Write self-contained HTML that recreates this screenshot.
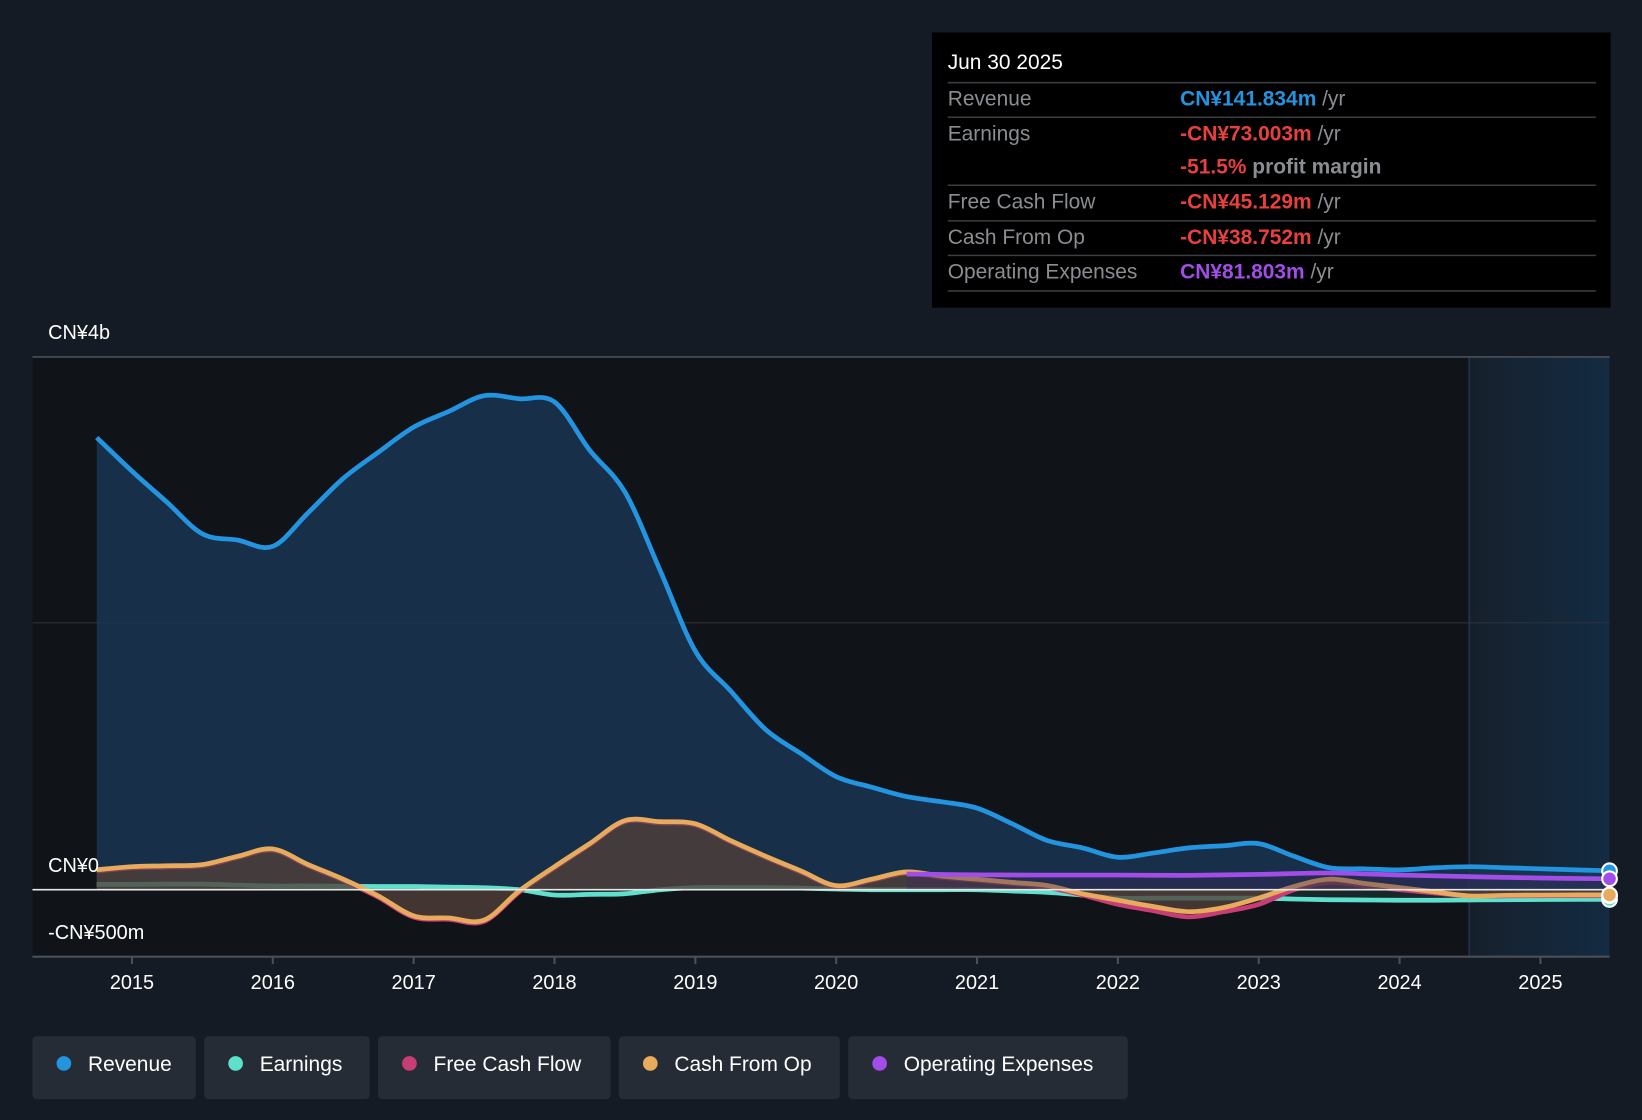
<!DOCTYPE html>
<html><head><meta charset="utf-8"><style>
html,body{margin:0;padding:0;background:#151b24;}
svg{display:block;font-family:"Liberation Sans","Noto Sans CJK SC",sans-serif;}
</style></head><body>
<svg id="chart" width="1642" height="1120" viewBox="0 0 1568 1070" preserveAspectRatio="none" xmlns="http://www.w3.org/2000/svg">
<defs>
<linearGradient id="fc" x1="0" x2="1" y1="0" y2="0"><stop offset="0" stop-color="#16202c"/><stop offset="1" stop-color="#142b42"/></linearGradient>
</defs>
<rect x="0" y="0" width="1568" height="1070" fill="#151b24"/>
<rect x="31" y="341" width="1506" height="573" fill="#101318"/>
<rect x="1403" y="341" width="134" height="573" fill="url(#fc)"/>
<line x1="1403" y1="341" x2="1403" y2="914" stroke="#22344a" stroke-width="1.5"/>
<line x1="31" y1="341" x2="1537" y2="341" stroke="#4a4f58" stroke-width="1.5"/>
<line x1="31" y1="595" x2="1537" y2="595" stroke="#2a323d" stroke-width="1"/>
<g id="series"></g>
<line x1="31" y1="850" x2="1537" y2="850" stroke="#e8e8e8" stroke-width="1.5"/>
<line x1="31" y1="914" x2="1537" y2="914" stroke="#4a4f58" stroke-width="2"/>
<text x="46" y="324" fill="#fff" font-size="19">CN¥4b</text>
<text x="46" y="833" fill="#fff" font-size="19">CN¥0</text>
<text x="46" y="897" fill="#fff" font-size="19">-CN¥500m</text>
<g id="xticks"></g>
<g id="markers"></g>

<g>
<rect x="890" y="31" width="648" height="263" fill="#000"/>
<text x="905" y="66" fill="#fff" font-size="20">Jun 30 2025</text>
<g stroke="#3a3d42" stroke-width="1.5">
<line x1="905" y1="79" x2="1524" y2="79"/><line x1="905" y1="112" x2="1524" y2="112"/>
<line x1="905" y1="177" x2="1524" y2="177"/><line x1="905" y1="211" x2="1524" y2="211"/>
<line x1="905" y1="244" x2="1524" y2="244"/><line x1="905" y1="278" x2="1524" y2="278"/>
</g>
<g font-size="20" fill="#8a8d92">
<text x="905" y="101">Revenue</text><text x="905" y="134">Earnings</text>
<text x="905" y="199">Free Cash Flow</text><text x="905" y="233">Cash From Op</text>
<text x="905" y="266">Operating Expenses</text>
</g>
<g font-size="20" font-weight="bold">
<text x="1127" y="101"><tspan fill="#2394e0">CN¥141.834m</tspan><tspan fill="#8a8d92" font-weight="normal"> /yr</tspan></text>
<text x="1127" y="134"><tspan fill="#e8403f">-CN¥73.003m</tspan><tspan fill="#8a8d92" font-weight="normal"> /yr</tspan></text>
<text x="1127" y="166"><tspan fill="#e8403f">-51.5%</tspan><tspan fill="#8a8d92"> profit margin</tspan></text>
<text x="1127" y="199"><tspan fill="#e8403f">-CN¥45.129m</tspan><tspan fill="#8a8d92" font-weight="normal"> /yr</tspan></text>
<text x="1127" y="233"><tspan fill="#e8403f">-CN¥38.752m</tspan><tspan fill="#8a8d92" font-weight="normal"> /yr</tspan></text>
<text x="1127" y="266"><tspan fill="#a24de8">CN¥81.803m</tspan><tspan fill="#8a8d92" font-weight="normal"> /yr</tspan></text>
</g>
</g>

<g font-size="20" fill="#fff">
<g><rect x="31" y="990" width="156" height="60" rx="4" fill="#262c36"/><circle cx="61" cy="1016" r="7" fill="#2394e0"/><text x="84" y="1023" fill="#fff">Revenue</text></g>
<g><rect x="195" y="990" width="158" height="60" rx="4" fill="#262c36"/><circle cx="225" cy="1016" r="7" fill="#5ee0cc"/><text x="248" y="1023" fill="#fff">Earnings</text></g>
<g><rect x="361" y="990" width="222" height="60" rx="4" fill="#262c36"/><circle cx="391" cy="1016" r="7" fill="#c73e77"/><text x="414" y="1023" fill="#fff">Free Cash Flow</text></g>
<g><rect x="591" y="990" width="211" height="60" rx="4" fill="#262c36"/><circle cx="621" cy="1016" r="7" fill="#e8aa5c"/><text x="644" y="1023" fill="#fff">Cash From Op</text></g>
<g><rect x="810" y="990" width="267" height="60" rx="4" fill="#262c36"/><circle cx="840" cy="1016" r="7" fill="#a24de8"/><text x="863" y="1023" fill="#fff">Operating Expenses</text></g>
</g>
</svg>
<script>
const dates = [2014.75,2015,2015.25,2015.5,2015.75,2016,2016.25,2016.5,2016.75,2017,2017.25,2017.5,2017.75,2018,2018.25,2018.5,2018.75,2019,2019.25,2019.5,2019.75,2020,2020.25,2020.5,2020.75,2021,2021.25,2021.5,2021.75,2022,2022.25,2022.5,2022.75,2023,2023.25,2023.5,2023.75,2024,2024.25,2024.5,2024.75,2025,2025.25,2025.5];
const revenue = [3395,3143,2908,2672,2625,2578,2829,3088,3285,3473,3591,3709,3686,3662,3300,2986,2397,1792,1493,1202,1022,849,770,699,660,613,495,369,314,244,275,314,330,346,251,165,157,149,165,173,165,157,149,142];
const earnings = [40,40,42,42,35,28,28,26,24,24,20,15,0,-40,-35,-30,0,16,16,16,12,5,0,0,0,0,-10,-20,-40,-63,-63,-63,-63,-63,-70,-75,-77,-79,-79,-77,-75,-74,-73,-73];
const fcf = [140,163,170,179,241,296,179,69,-57,-206,-222,-238,-18,163,336,509,501,485,359,241,131,21,69,124,92,69,45,16,-40,-110,-157,-204,-165,-110,0,55,30,0,-25,-47,-46,-45,-45,-45];
const cfo = [150,173,180,189,251,306,189,79,-47,-196,-212,-228,-8,173,346,519,511,495,369,251,141,31,79,134,102,79,55,31,-31,-79,-126,-165,-134,-63,24,79,47,16,-16,-47,-42,-40,-39,-39];
const opexDates = [2020.5,2021,2021.5,2022,2022.5,2023,2023.5,2024,2024.5,2025,2025.5];
const opex = [118,112,110,110,108,115,126,110,98,88,82];
const xTicks = [2015,2016,2017,2018,2019,2020,2021,2022,2023,2024,2025];

const X = d => 126 + (d - 2015) * 134.5;
const Y = v => 850 - v * 0.12725;
const NS = "http://www.w3.org/2000/svg";
const g = document.getElementById('series');
function mk(tag, attrs, parent){const e=document.createElementNS(NS,tag);for(const k in attrs)e.setAttribute(k,attrs[k]);parent.appendChild(e);return e;}
function smooth(xs, vals){
  const p = xs.map((d,i)=>[X(d),Y(vals[i])]);
  let s = `M${p[0][0]},${p[0][1]}`;
  for(let i=0;i<p.length-1;i++){
    const p0=p[i-1]||p[i],p1=p[i],p2=p[i+1],p3=p[i+2]||p2;
    const c1=[p1[0]+(p2[0]-p0[0])/6,p1[1]+(p2[1]-p0[1])/6];
    const c2=[p2[0]-(p3[0]-p1[0])/6,p2[1]-(p3[1]-p1[1])/6];
    s+=` C${c1[0]},${c1[1]} ${c2[0]},${c2[1]} ${p2[0]},${p2[1]}`;
  }
  return s;
}
function series(name, xs, vals, color, fill, fillOp){
  const line = smooth(xs, vals);
  const x0 = X(xs[0]), x1 = X(xs[xs.length-1]);
  const a = mk('path',{d:line+` L${x1},850 L${x0},850 Z`,fill:fill,'fill-opacity':fillOp},g);
  
  
  const l = mk('path',{d:line,fill:'none',stroke:color,'stroke-width':4.5,'stroke-linejoin':'round'},g);
  
  
}
series('revenue', dates, revenue, '#2394e0', '#1a3a58', 0.75);
series('earnings', dates, earnings, '#5ee0cc', '#2a5a55', 0.3);
series('free-cash-flow', dates, fcf, '#c73e77', '#5a2030', 0.45);
series('cash-from-op', dates, cfo, '#e8aa5c', '#4e4a3c', 0.6);
series('operating-expenses', opexDates, opex, '#a24de8', '#3a2a5a', 0.4);

const xt = document.getElementById('xticks');
xTicks.forEach(t=>{
  const l = mk('line',{x1:X(t),x2:X(t),y1:914,y2:921,stroke:'#4a4f58','stroke-width':2},xt);
  
  
  const tx = mk('text',{x:X(t),y:945,'text-anchor':'middle',fill:'#fff','font-size':19},xt);
  tx.textContent = t;
  
  
});
const mg = document.getElementById('markers');
const ends = [[revenue[revenue.length-1],'#2394e0','revenue'],[earnings[earnings.length-1],'#5ee0cc','earnings'],[fcf[fcf.length-1],'#c73e77','free-cash-flow'],[cfo[cfo.length-1],'#e8aa5c','cash-from-op'],[opex[opex.length-1],'#a24de8','operating-expenses']];
ends.forEach(e=>{
  const c = mk('circle',{cx:1537,cy:Y(e[0]),r:7,fill:e[1],stroke:'#fff','stroke-width':2},mg);
  
  
});
</script>
</body></html>
